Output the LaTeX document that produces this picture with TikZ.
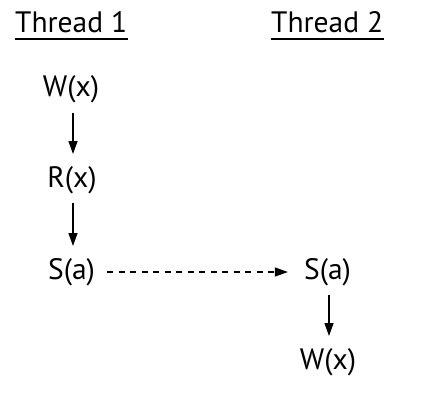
\documentclass[tikz,border=0pt]{standalone}
\usepackage{fontspec}
\setmainfont{PT Sans}
\usetikzlibrary{arrows.meta}
\begin{document}
\begin{tikzpicture}[x=1pt,y=-1pt,
  lbl/.style={inner sep=0pt,font=\fontsize{29.5}{35}\selectfont},
  arr/.style={line width=1.3pt,-{Triangle[length=13pt,width=9pt]}},
  vert/.style={arr,shorten <=23pt,shorten >=26pt},
  dasharr/.style={arr,dash pattern=on 6pt off 5.5pt}]
\useasboundingbox (0,0) rectangle (427,410);
\node[lbl,anchor=base west] (t1) at (15,32) {Thread 1};
\node[lbl,anchor=base west] (t2) at (271,32) {Thread 2};
\draw[line width=2pt] ([yshift=-7pt]t1.base west) -- ([yshift=-7pt,xshift=1pt]t1.base east);
\draw[line width=2pt] ([yshift=-7pt]t2.base west) -- ([yshift=-7pt,xshift=1pt]t2.base east);
\node[lbl] (w1) at (71,89.5) {W(x)};
\node[lbl] (r1) at (72,180) {R(x)};
\node[lbl] (s1) at (71.5,272) {S(a)};
\node[lbl] (s2) at (327.5,272) {S(a)};
\node[lbl] (w2) at (328,362) {W(x)};
\draw[vert] ([xshift=2pt]w1.center) -- ([xshift=1pt]r1.center);
\draw[vert] ([xshift=1pt]r1.center) -- ([xshift=1.5pt]s1.center);
\draw[dasharr] ([xshift=12pt]s1.east) -- ([xshift=-16pt]s2.west);
\draw[vert] ([xshift=1.5pt]s2.center) -- ([xshift=1pt]w2.center);
\end{tikzpicture}
\end{document}
